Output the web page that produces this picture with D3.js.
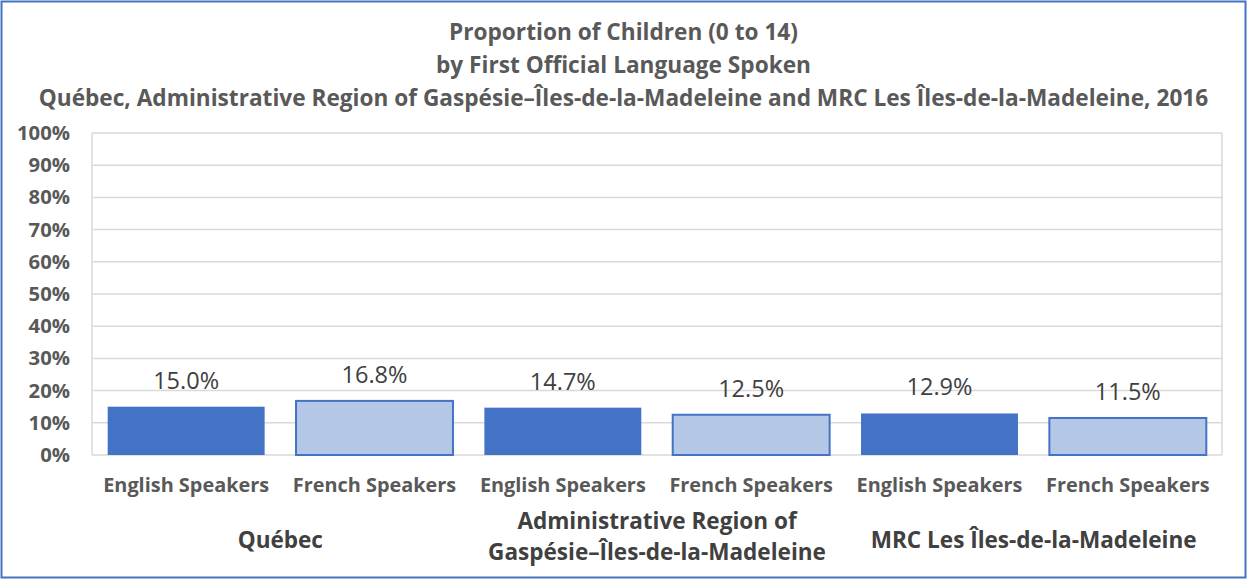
<!DOCTYPE html>
<html lang="en">
<head>
    <meta charset="UTF-8"/>
    <title>Proportion of Children by First Official Language Spoken</title>
    <script src="https://d3js.org/d3.v7.min.js"></script>
    <style>
        body { margin: 0; background: white; }
        svg { display: block; font-family: "Open Sans", Carlito, Calibri, sans-serif; }
    </style>
</head>
<body>
<script>

    var w = 1247;
    var h = 579;

    // data
    var regions = ["Québec", "Administrative Region of|Gaspésie–Îles-de-la-Madeleine", "MRC Les Îles-de-la-Madeleine"];
    var speakers = ["English Speakers", "French Speakers"];
    var english = [15.0, 14.7, 12.9];
    var french = [16.8, 12.5, 11.5];
    var yTicks = [0, 10, 20, 30, 40, 50, 60, 70, 80, 90, 100];
    var titleLines = [
        "Proportion of Children (0 to 14)",
        "by First Official Language Spoken",
        "Québec, Administrative Region of Gaspésie–Îles-de-la-Madeleine and MRC Les Îles-de-la-Madeleine, 2016"
    ];

    var plotLeft = 92, plotRight = 1222, plotTop = 133, plotBottom = 455;

    // flatten into bars
    var bars = [];
    regions.forEach(function(r, i) {
        bars.push({region: i, lang: 0, value: english[i]});
        bars.push({region: i, lang: 1, value: french[i]});
    });

    var xScale = d3.scaleBand()
                    .domain(d3.range(bars.length))
                    .range([plotLeft, plotRight])
                    .paddingInner(0.1667)
                    .paddingOuter(0.0833);

    var yScale = d3.scaleLinear()
                    .domain([0, 100])
                    .range([plotBottom, plotTop]);

    var svg = d3.select("body")
                .append("svg")
                .attr("width", w)
                .attr("height", h);

    // font size so that a sample string comes out at a given width
    function fitSize(sample, weight, width) {
        var t = svg.append("text")
            .attr("font-size", 20)
            .attr("font-weight", weight)
            .text(sample);
        var len = t.node().getComputedTextLength();
        t.remove();
        return 20 * width / len;
    }

    var titleSize = fitSize(titleLines[2], "bold", 1170);
    var tickSize = fitSize("100%", "bold", 53);
    var catSize = fitSize("English Speakers", "bold", 166);
    var regionSize = fitSize("MRC Les Îles-de-la-Madeleine", "bold", 326);
    var valSize = fitSize("15.0%", "normal", 66);

    // outer frame
    svg.append("rect")
        .attr("x", 1.5).attr("y", 1.5)
        .attr("width", w - 3).attr("height", h - 3)
        .attr("fill", "white")
        .attr("stroke", "#4472C4")
        .attr("stroke-width", 2);

    // title
    svg.selectAll(".title")
        .data(titleLines)
        .enter()
        .append("text")
        .attr("class", "title")
        .attr("x", w / 2)
        .attr("y", function(d, i) { return 40 + i * 33; })
        .attr("text-anchor", "middle")
        .attr("font-size", titleSize)
        .attr("font-weight", "bold")
        .attr("fill", "#595959")
        .text(function(d) { return d; });

    // gridlines
    svg.selectAll(".grid")
        .data(yTicks)
        .enter()
        .append("line")
        .attr("x1", plotLeft).attr("x2", plotRight)
        .attr("y1", function(d) { return yScale(d); })
        .attr("y2", function(d) { return yScale(d); })
        .attr("stroke", "#D9D9D9")
        .attr("stroke-width", 1.5);

    svg.append("line")
        .attr("x1", plotLeft).attr("x2", plotLeft)
        .attr("y1", plotTop).attr("y2", plotBottom)
        .attr("stroke", "#D9D9D9").attr("stroke-width", 1.5);
    svg.append("line")
        .attr("x1", plotRight).attr("x2", plotRight)
        .attr("y1", plotTop).attr("y2", plotBottom)
        .attr("stroke", "#D9D9D9").attr("stroke-width", 1.5);

    // y axis labels
    svg.selectAll(".ylab")
        .data(yTicks)
        .enter()
        .append("text")
        .attr("x", 70)
        .attr("y", function(d) { return yScale(d); })
        .attr("dy", "0.35em")
        .attr("text-anchor", "end")
        .attr("font-size", tickSize)
        .attr("font-weight", "bold")
        .attr("fill", "#595959")
        .text(function(d) { return d + "%"; });

    // bars
    svg.selectAll(".bar")
        .data(bars)
        .enter()
        .append("rect")
        .attr("x", function(d, i) { return xScale(i); })
        .attr("y", function(d) { return yScale(d.value); })
        .attr("width", xScale.bandwidth())
        .attr("height", function(d) { return plotBottom - yScale(d.value); })
        .attr("fill", function(d) { return d.lang == 0 ? "#4472C4" : "#B4C7E7"; })
        .attr("stroke", "#4472C4")
        .attr("stroke-width", function(d) { return d.lang == 0 ? 0 : 2; });

    // value labels
    svg.selectAll(".val")
        .data(bars)
        .enter()
        .append("text")
        .attr("x", function(d, i) { return xScale(i) + xScale.bandwidth() / 2; })
        .attr("y", function(d) { return yScale(d.value) - 18; })
        .attr("text-anchor", "middle")
        .attr("font-size", valSize)
        .attr("fill", "#404040")
        .text(function(d) { return d.value.toFixed(1) + "%"; });

    // category labels
    svg.selectAll(".cat")
        .data(bars)
        .enter()
        .append("text")
        .attr("x", function(d, i) { return xScale(i) + xScale.bandwidth() / 2; })
        .attr("y", 492)
        .attr("text-anchor", "middle")
        .attr("font-size", catSize)
        .attr("font-weight", "bold")
        .attr("fill", "#595959")
        .text(function(d) { return speakers[d.lang]; });

    // region labels
    var groupW = (plotRight - plotLeft) / regions.length;
    regions.forEach(function(r, i) {
        var lines = r.split("|");
        var cx = plotLeft + groupW * (i + 0.5);
        var y0 = lines.length == 1 ? 548 : 529;
        var t = svg.append("text")
            .attr("text-anchor", "middle")
            .attr("font-size", regionSize)
            .attr("font-weight", "bold")
            .attr("fill", "#404040");
        lines.forEach(function(l, j) {
            t.append("tspan")
                .attr("x", cx)
                .attr("y", y0 + j * 31)
                .text(l);
        });
    });

</script>
</body>
</html>
